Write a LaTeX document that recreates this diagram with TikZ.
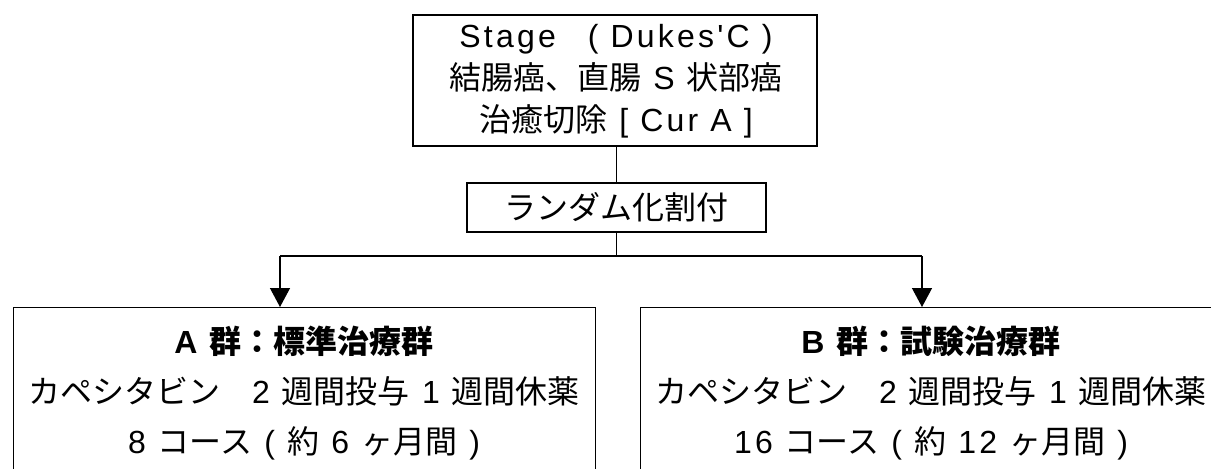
\documentclass[tikz,border=0pt]{standalone}
\usepackage{fontspec}
\setmainfont{Liberation Sans}[LetterSpace=10, Ligatures=TeXOff]
\newfontfamily\jp{Noto Sans CJK JP}
\newcommand\J[1]{{\jp #1}}
\usetikzlibrary{arrows.meta}
\tikzset{
  box/.style={draw, line width=0.65pt, rectangle, inner sep=0pt},
  conn/.style={line width=0.65pt},
  arr/.style={line width=0.65pt, -{Triangle[width=10pt,length=9.5pt]}},
  txt/.style={align=center, inner sep=0pt},
}
\begin{document}
\begin{tikzpicture}[x=0.5pt, y=-0.5pt]
\useasboundingbox (0,0) rectangle (1211,468);
\fill[white] (0,0) rectangle (1211,468);
\clip (0,0) rectangle (1211,468);
% top box
\node[box, minimum width=202pt, minimum height=65.5pt] (top) at (615,80.5) {};
\node[txt, font=\fontsize{16pt}{21pt}\selectfont] (toptext) at (616,81)
  {Stage\J{　}( Dukes'C )\\ \J{結腸癌、直腸} S \J{状部癌}\\ \J{治癒切除} [ Cur A ]};
% randomisation box
\node[box, minimum width=149.5pt, minimum height=24.5pt,
      font=\fontsize{16pt}{21pt}\selectfont] (rand) at (616.5,207.5) {\J{ランダム化割付}};
% group boxes
\node[box, anchor=north west, minimum width=291pt, minimum height=100pt] (A) at (13,307) {};
\node[box, anchor=north west, minimum width=291pt, minimum height=100pt] (B) at (640,307) {};
\node[txt, font=\fontsize{16pt}{25pt}\selectfont] (Atext) at (304,393)
  {\textbf{A \J{群：標準治療群}}\\ \J{カペシタビン　}2 \J{週間投与} 1 \J{週間休薬}\\ 8 \J{コース} ( \J{約} 6 \J{ヶ月間} )};
\node[txt, font=\fontsize{16pt}{25pt}\selectfont] (Btext) at (931,393)
  {\textbf{B \J{群：試験治療群}}\\ \J{カペシタビン　}2 \J{週間投与} 1 \J{週間休薬}\\ 16 \J{コース} ( \J{約} 12 \J{ヶ月間} )};
% connectors
\coordinate (split) at (616.5,256);
\coordinate (la) at (280,256);
\coordinate (rb) at (922,256);
\draw[conn] (top.south -| rand.north) -- (rand.north);
\draw[conn] (rand.south) -- (split);
\draw[conn] (la) -- (rb);
\draw[arr] (la) -- (la |- A.north);
\draw[arr] (rb) -- (rb |- B.north);
\end{tikzpicture}
\end{document}
